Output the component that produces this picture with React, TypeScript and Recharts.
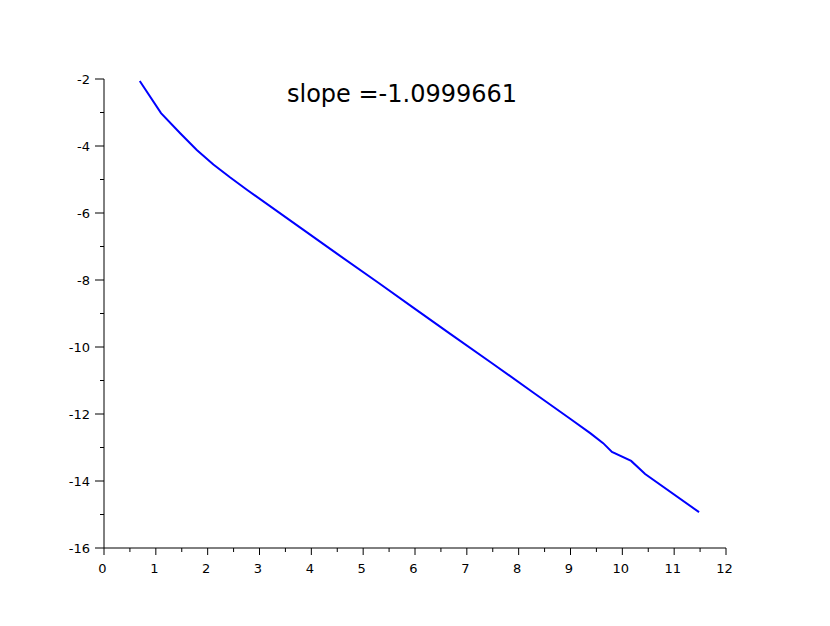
import React from "react";
import { Line, LineChart, XAxis, YAxis } from "recharts";

// log(n) vs log(error)
const logN = [
  0.69, 1.1, 1.47, 1.79, 2.11, 2.43, 2.75, 3.78, 4.5, 5.3, 6.0, 6.68, 7.5, 8.3,
  9.0, 9.38, 9.63, 9.8, 10.17, 10.44, 11.48,
];
const logErr = [
  -2.06, -3.02, -3.62, -4.12, -4.55, -4.935, -5.3, -6.43, -7.22, -8.09, -8.86,
  -9.61, -10.5, -11.38, -12.15, -12.57, -12.87, -13.13, -13.4, -13.79, -14.93,
];

const xTicks = [
  0, 0.5, 1, 1.5, 2, 2.5, 3, 3.5, 4, 4.5, 5, 5.5, 6, 6.5, 7, 7.5, 8, 8.5, 9,
  9.5, 10, 10.5, 11, 11.5, 12,
];
const yTicks = [
  -16, -15, -14, -13, -12, -11, -10, -9, -8, -7, -6, -5, -4, -3, -2,
];

const title = "slope =-1.0999661";

const data = logN.map((x, i) => ({ x, y: logErr[i] }));

const font = "DejaVu Sans, sans-serif";

function XTick({ x, y, payload }: any) {
  const major = Number.isInteger(payload.value);
  return (
    <g>
      <line x1={x} x2={x} y1={y} y2={y + (major ? 7 : 4)} stroke="#000" />
      {major && (
        <text
          x={x - 1.5}
          y={y + 25}
          textAnchor="middle"
          fontSize={13}
          fontFamily={font}
          fill="#000"
        >
          {payload.value}
        </text>
      )}
    </g>
  );
}

function YTick({ x, y, payload }: any) {
  const major = payload.value % 2 === 0;
  return (
    <g>
      <line x1={x - (major ? 9 : 4)} x2={x} y1={y} y2={y} stroke="#000" />
      {major && (
        <text
          x={x - 14}
          y={y + 4.5}
          textAnchor="end"
          fontSize={13}
          fontFamily={font}
          fill="#000"
        >
          {payload.value}
        </text>
      )}
    </g>
  );
}

export default function App() {
  return (
    <div
      style={{
        position: "absolute",
        left: 0,
        top: 0,
        width: 830,
        height: 626,
        background: "#fff",
      }}
    >
      <LineChart
        width={830}
        height={626}
        data={data}
        margin={{ top: 79, right: 104, bottom: 38, left: 44 }}
      >
        <XAxis
          type="number"
          dataKey="x"
          domain={[0, 12]}
          ticks={xTicks}
          interval={0}
          height={40}
          tickSize={0}
          tickMargin={0}
          tickLine={false}
          axisLine={{ stroke: "#000" }}
          tick={<XTick />}
        />
        <YAxis
          type="number"
          dataKey="y"
          domain={[-16, -2]}
          ticks={yTicks}
          interval={0}
          width={60}
          tickSize={0}
          tickMargin={0}
          tickLine={false}
          axisLine={{ stroke: "#000" }}
          tick={<YTick />}
        />
        <Line
          type="linear"
          dataKey="y"
          stroke="#0000ff"
          strokeWidth={2}
          dot={false}
          isAnimationActive={false}
        />
      </LineChart>
      <svg
        width={830}
        height={626}
        style={{ position: "absolute", left: 0, top: 0, pointerEvents: "none" }}
      >
        <text x={287} y={102} fontSize={24} fontFamily={font} fill="#000">
          {title}
        </text>
      </svg>
    </div>
  );
}
